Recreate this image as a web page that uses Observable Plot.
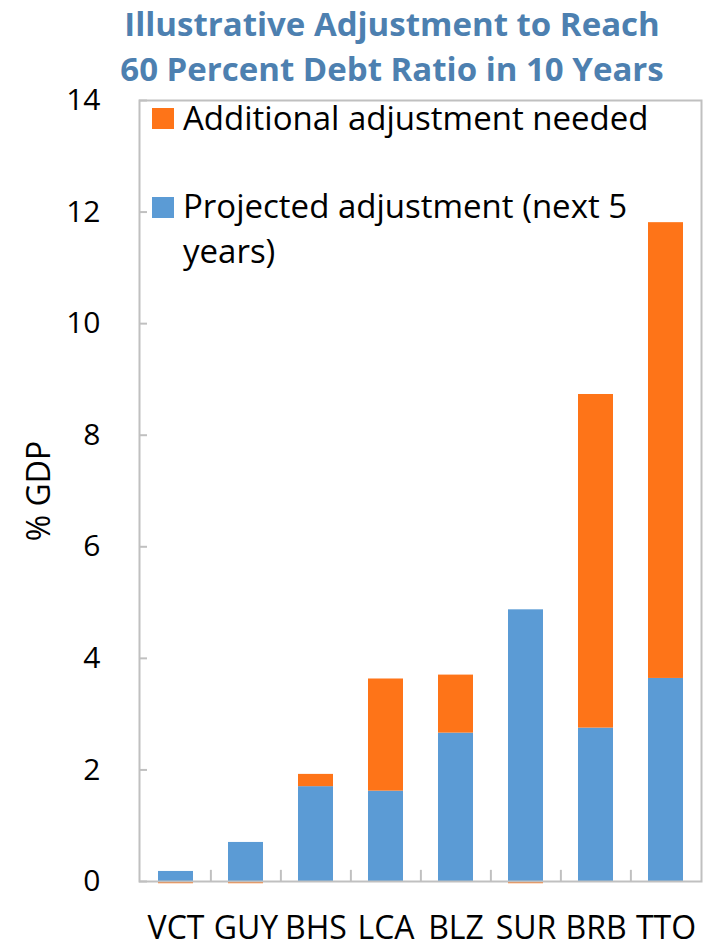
<!DOCTYPE html>
<html>
<head>
<meta charset="utf-8">
<script src="https://cdn.jsdelivr.net/npm/d3@7"></script>
<script src="https://cdn.jsdelivr.net/npm/@observablehq/plot@0.6"></script>
<style>
  html, body { margin: 0; padding: 0; background: #fff; }
  #wrap { position: relative; width: 718px; height: 947px; font-family: "Open Sans", sans-serif; }
  #title { position: absolute; left: 66px; width: 652px; top: 1px; text-align: center; color: #4d80b0;
           font-weight: 700; font-size: 33px; line-height: 45px; }
  .leg { position: absolute; left: 152px; font-size: 33px; color: #000; line-height: 45px; }
  .leg .sw { position: absolute; left: 0; width: 22px; height: 21px; }
  .leg .tx { position: absolute; left: 31px; white-space: nowrap; }
</style>
</head>
<body>
<div id="wrap">
  <div id="chart"></div>
  <div id="title">Illustrative Adjustment to Reach<br>60 Percent Debt Ratio in 10 Years</div>
  <div class="leg" id="leg1" style="top:108px"><div class="sw" style="background:#fe7418"></div><div class="tx" style="top:-13px">Additional adjustment needed</div></div>
  <div class="leg" id="leg2" style="top:197px"><div class="sw" style="background:#5b9bd5"></div><div class="tx" style="top:-14px">Projected adjustment (next 5<br>years)</div></div>
</div>
<script>
const categories = ["VCT", "GUY", "BHS", "LCA", "BLZ", "SUR", "BRB", "TTO"];
const projected = [0.18, 0.70, 1.70, 1.62, 2.66, 4.87, 2.75, 3.64];
const additional = [-0.04, -0.04, 0.22, 2.01, 1.04, -0.04, 5.98, 8.17];
const seriesNames = ["Projected adjustment (next 5 years)", "Additional adjustment needed"];
const seriesColors = ["#5b9bd5", "#fe7418"];
const yTicks = [0, 2, 4, 6, 8, 10, 12, 14];

const rows = [];
categories.forEach((c, i) => {
  rows.push({cat: c, series: seriesNames[0], value: projected[i]});
  rows.push({cat: c, series: seriesNames[1], value: additional[i]});
});

const W = 718, H = 947, mL = 139, mR = 17, mT = 100, mB = 66;
const step = (W - mL - mR) / categories.length;

const chart = Plot.plot({
  width: W, height: H,
  marginLeft: mL, marginRight: mR, marginTop: mT, marginBottom: mB,
  style: {fontFamily: "'Open Sans', sans-serif", background: "#fff"},
  x: {domain: categories, paddingInner: 0.5, paddingOuter: 0.25, label: null},
  y: {domain: [0, 14], label: null},
  color: {domain: seriesNames, range: seriesColors},
  marks: [
    Plot.barY(rows, {x: "cat", y: "value", fill: "series", order: seriesNames}),
    Plot.frame({stroke: "#c0c0c0", strokeWidth: 2}),
    Plot.ruleX(categories.slice(1), {x: d => d, y1: 0, y2: 0.2, dx: -step / 2, stroke: "#c0c0c0", strokeWidth: 2}),
    Plot.axisY({ticks: yTicks, tickSize: 0, tickPadding: 39, fontSize: 30, label: null}),
    Plot.axisY({ticks: yTicks, tickSize: 8, dx: 8, tickFormat: () => "", stroke: "#c0c0c0", strokeWidth: 2, label: null}),
    Plot.axisX({tickSize: 0, tickPadding: 35, fontSize: 32, label: null}),
    Plot.text(["% GDP"], {frameAnchor: "left", rotate: -90, dx: -100, fontSize: 32, textAnchor: "middle", text: d => d})
  ]
});
document.getElementById("chart").appendChild(chart);
</script>
</body>
</html>
